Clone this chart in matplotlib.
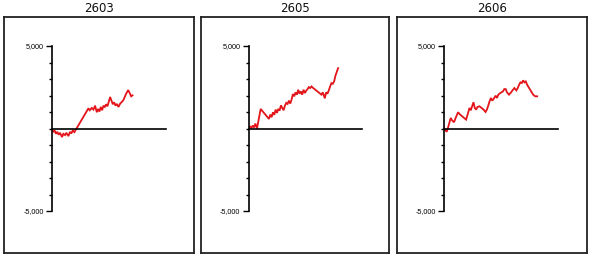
import matplotlib
matplotlib.use("Agg")
import matplotlib.pyplot as plt
from matplotlib.ticker import FixedLocator, FixedFormatter, MultipleLocator

titles = ["2603", "2605", "2606"]

x_2603 = [0, 1, 2, 3, 4, 5, 6, 7.5, 8.5, 9.75, 10.75, 12.25, 13.5, 14.5, 15.5, 16.75,
          26.25, 27.25, 28.25, 29.75, 31, 32.25, 33.5, 34.5, 35.5, 36.5, 37.5, 38.5,
          39.5, 40.5, 41.5, 43.5, 44.5, 45.5, 46.5, 47.5, 48.5, 49.75, 51, 52.25,
          53.5, 54.5, 55.5, 57, 58.25, 59.25, 60.25]
y_2603 = [0, -220, -120, -320, -200, -380, -260, -520, -320, -400, -260, -460, -200,
          -300, -120, -220, 1085, 1225, 1105, 1245, 1145, 1385, 985, 1185, 1025, 1305,
          1105, 1385, 1305, 1470, 1345, 1910, 1690, 1470, 1590, 1385, 1490, 1305, 1510,
          1610, 1730, 1930, 2110, 2330, 2130, 1950, 2010]

x_2605 = [0, 1, 2, 3, 4, 5, 6.25, 9, 15.25, 16.25, 17.25, 18.25, 19.25, 20.25, 21.25,
          22.25, 23.25, 24.25, 25.25, 26.25, 27.25, 28.25, 29.25, 30.25, 31.25, 32.25,
          33.25, 34.25, 35.25, 36.25, 37.25, 38.25, 39.25, 40.25, 41.25, 42.25, 43.25,
          44.25, 45.25, 46.25, 47.25, 48.25, 54.75, 55.75, 57.25, 58.25, 59.25, 60.25,
          61.25, 62.25, 63.25, 64.25, 65.25, 67.25]
y_2605 = [0, 140, 20, 180, 60, 300, 0, 1185, 580, 845, 685, 985, 825, 1145, 945, 1185,
          1085, 1405, 1245, 1105, 1385, 1550, 1490, 1690, 1510, 1750, 2090, 1950, 2190,
          2050, 2350, 2110, 2250, 2050, 2350, 2150, 2290, 2390, 2510, 2450, 2550, 2470,
          2050, 2190, 1830, 2190, 2110, 2310, 2550, 2750, 2710, 2850, 3200, 3660]

x_2606 = [0, 1, 1.75, 2.75, 3.75, 4.75, 5.75, 7.25, 8.75, 10.25, 11.75, 13.25, 14.75,
          16.25, 17.75, 18.75, 19.75, 20.75, 21.75, 22.75, 23.75, 24.75, 26.25, 27.75,
          29.25, 30.75, 31.75, 32.75, 33.75, 34.75, 35.75, 36.75, 38.25, 39.25, 40.25,
          41.75, 43.75, 44.75, 45.75, 46.75, 48.25, 49.75, 51.25, 52.25, 53.75, 54.75,
          55.75, 56.75, 57.75, 58.75, 59.75, 60.75, 61.75, 63.25, 64.75, 66.25, 67.75,
          69.25]
y_2606 = [0, -120, -200, 40, 340, 640, 500, 380, 700, 985, 845, 745, 640, 540, 945,
          1245, 1105, 1345, 1590, 1245, 1145, 1305, 1345, 1245, 1145, 1000, 1145, 1385,
          1650, 1850, 1690, 1790, 1990, 1850, 2050, 2150, 2250, 2390, 2390, 2190, 2050,
          2190, 2350, 2450, 2310, 2450, 2650, 2795, 2755, 2915, 2795, 2855, 2650, 2450,
          2250, 2050, 1950, 1950]

xs = [x_2603, x_2605, x_2606]
ys = [y_2603, y_2605, y_2606]

W, H = 591, 258
fig = plt.figure(figsize=(W / 100, H / 100), dpi=100)


def fa(l, t, r, b):
    return [l / W, 1 - b / H, (r - l) / W, (b - t) / H]


frames = [(4, 17, 194, 253), (201, 17, 389, 253), (397, 17, 587, 253)]
inners = [(52, 46, 165.6, 211), (248.7, 46, 361.7, 211), (444.3, 46, 558.3, 211)]

for i in range(3):
    fr = fig.add_axes(fa(*frames[i]))
    fr.set_xticks([])
    fr.set_yticks([])
    for s in fr.spines.values():
        s.set_linewidth(1.3)
        s.set_color("#222222")
    l, t, r, b = frames[i]
    fig.text((l + r) / 2 / W, 1 - 8.5 / H, titles[i], ha="center", va="center",
             fontsize=8.5, family="DejaVu Sans", color="#111111")

    ax = fig.add_axes(fa(*inners[i]))
    ax.patch.set_visible(False)
    ax.set_xlim(0, 85)
    ax.set_ylim(-5000, 5000)
    ax.plot(xs[i], ys[i], color="#e3151a", lw=1.3, solid_joinstyle="miter")
    ax.spines["top"].set_visible(False)
    ax.spines["right"].set_visible(False)
    ax.spines["bottom"].set_position(("data", 0))
    ax.spines["bottom"].set_linewidth(1.2)
    ax.spines["left"].set_linewidth(1.2)
    ax.set_xticks([])
    ax.yaxis.set_major_locator(FixedLocator([-5000, 5000]))
    ax.yaxis.set_major_formatter(FixedFormatter(["-5,000", "5,000"]))
    ax.yaxis.set_minor_locator(MultipleLocator(1000))
    ax.tick_params(axis="y", which="major", length=4.5, width=1.0, pad=1.5,
                   labelsize=5.2, direction="out")
    ax.tick_params(axis="y", which="minor", length=2.5, width=1.0, direction="out")
    for lab in ax.get_yticklabels():
        lab.set_family("Liberation Sans")

fig.savefig("out.png", dpi=100)
